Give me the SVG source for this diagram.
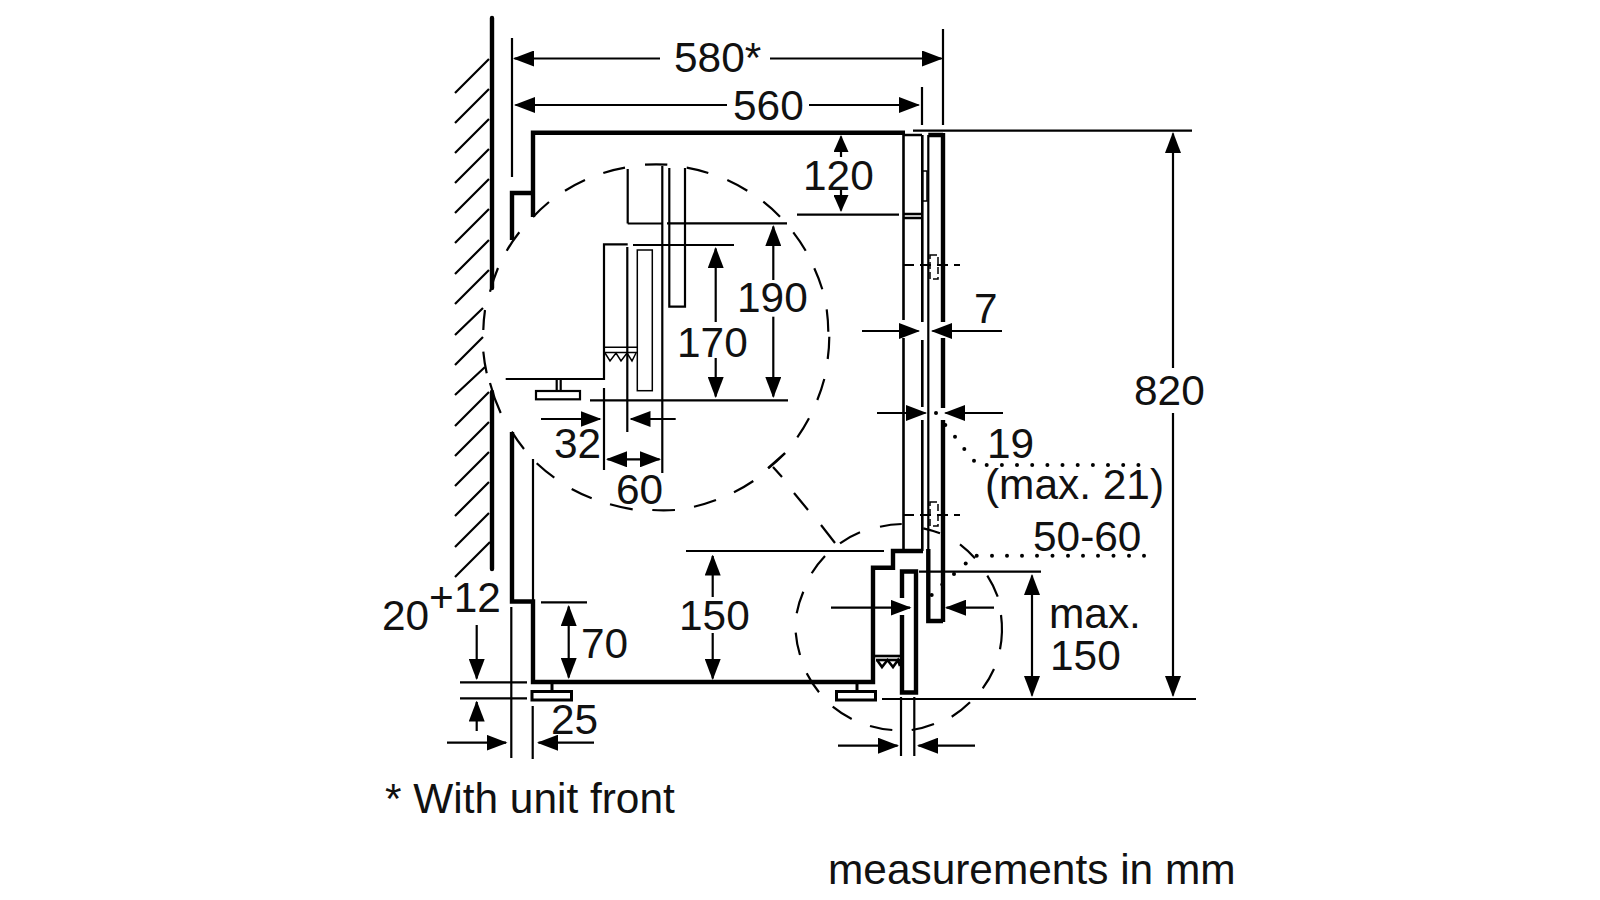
<svg xmlns="http://www.w3.org/2000/svg" width="1600" height="900" viewBox="0 0 1600 900">
<style>
.bg{fill:#fff}
path,line,rect,circle{fill:none;stroke:#000;stroke-width:2.2}
.thick{stroke-width:4.4}
.med{stroke-width:3}
.mid{stroke-width:2.6}
.hair{stroke-width:1.5}
.dash{stroke-width:2.2}
.sdash{stroke-width:1.8;stroke-dasharray:11 6}
.dots{fill:#000;stroke:none}
.head{fill:#000;stroke:none}
text{font-family:"Liberation Sans",Arial,sans-serif;font-size:42.4px;fill:#111}
.a{marker-end:url(#ah)}
.aa{marker-start:url(#ah);marker-end:url(#ah)}
.b{marker-end:url(#sh)}
</style>
<defs>
<marker id="ah" markerUnits="userSpaceOnUse" markerWidth="21" markerHeight="16" viewBox="0 0 21 16" refX="19.500" refY="8" orient="auto-start-reverse"><path class="head" d="M0 0L21 8L0 16Z"/></marker>
<marker id="sh" markerUnits="userSpaceOnUse" markerWidth="17" markerHeight="15" viewBox="0 0 17 15" refX="15.500" refY="7.500" orient="auto-start-reverse"><path class="head" d="M0 0L17 7.500L0 15Z"/></marker>
</defs>
<rect class="bg" style="stroke:none" width="1600" height="900"/>
<g id="wall">
<path class="thick" stroke-linecap="round" d="M492 18V288M492 392V569"/>
<path d="M455 93L489 59M455 123L489 89M455 153L489 119M455 183L489 149M455 213L489 179M455 243L489 209M455 274L489 240M455 304L489 270M455 335L483 308M455 365L483 337M455 395L485 367M455 426L489 392M455 456L489 422M455 486L489 452M455 516L489 482M455 547L489 513M455 577L490 542"/>
</g>
<g id="cabinet">
<path class="thick" d="M512 240V193H533M533 217V132.700H905"/>
<path class="thick" d="M512 432V601.500H533V682H873V567.700H893V551H923"/>
<path d="M533 459V600"/>
<path class="mid" d="M903.500 135V320M903.500 338V551M903.500 135H922M903.500 214H922M903.500 218H922M922.300 135V322M922.300 340V407M922.300 420V551"/>
<rect class="hair" x="922.500" y="171" width="4.500" height="30"/>
<path d="M928.300 135V549"/>
<path class="thick" d="M928.300 135H943M943 133V322M943 338V408M943 420V622M928.300 549V621H943"/>
<path class="med" d="M552 682V691"/>
<rect class="med" x="532" y="691.500" width="39.500" height="8.500"/>
<path class="med" d="M857 682V691"/>
<rect class="med" x="836.500" y="691.500" width="39" height="8.500"/>
<path class="thick" d="M902 598V571.500H916V692.500H902V615"/>
<path class="mid" d="M873 656H902"/>
<path class="mid" d="M876 660H901"/>
<path class="mid" d="M877 660L882 667L887.500 660L893 667L898 660L900 666"/>
</g>
<g id="hinges">
<path class="sdash" d="M903 265H960M903 515H960"/>
<rect class="hair" stroke-dasharray="7 3" x="930" y="255" width="8" height="24"/>
<rect class="hair" stroke-dasharray="7 3" x="930" y="502" width="8" height="24"/>
</g>
<g id="detail-upper">
<path class="dash" d="M645 164.700A173 173 0 0 1 667.300 164.700M686.700 167.700A173 173 0 0 1 708.300 173M727.300 180A173 173 0 0 1 747.300 190.700M763.300 201.700A173 173 0 0 1 780 216.700M793.300 232.300A173 173 0 0 1 805.700 250.700M814.300 268.300A173 173 0 0 1 822.300 289.300M826.700 309.300A173 173 0 0 1 828.300 331.700M829.300 336.700A173 173 0 0 1 827.700 359M824.300 379A173 173 0 0 1 817.300 400M809 418.300A173 173 0 0 1 797.300 437.300M785 453.300A173 173 0 0 1 768.300 468.300M753.300 481A173 173 0 0 1 734 492.300M716 500A173 173 0 0 1 694 506.700M675 510A173 173 0 0 1 652.300 510M632.700 509.300A173 173 0 0 1 610 504.300M591.700 498.300A173 173 0 0 1 571.700 489M554.300 477.700A173 173 0 0 1 536.700 463.300M524 449A173 173 0 0 1 511.700 431.700M500.700 413A173 173 0 0 1 490 383M486.700 373.300A173 173 0 0 1 483.300 351.700M483.300 330A173 173 0 0 1 485 310M490 291.700A173 173 0 0 1 498 268M506.700 250.700A173 173 0 0 1 519.300 232.300M533 217A173 173 0 0 1 549 202M565 190.700A173 173 0 0 1 585 180M603.300 173A173 173 0 0 1 625 167.700"/>
<path d="M773 467L782 477M794 493L808 510M821 525L835 543M768 468L785 453"/>
<path d="M627.700 169V223.500M627.700 223.500H662M662.300 166V473M669.300 168V306.700H685V168"/>
<path d="M627.700 244.300H604V379H505.700M627.300 247V432"/>
<rect class="hair" x="637.300" y="250" width="15" height="140.700" stroke="#333"/>
<path class="hair" d="M604 347.300H637M604 352.500H637"/>
<path class="hair" d="M605 353L610 361L616 353L621 361L627 353L632 361L636 353"/>
<path d="M556.700 380V391M560.700 380V391"/>
<rect x="536" y="391" width="44" height="8.300"/>
<path d="M604 388V470"/>
</g>
<g id="detail-lower">
<path class="dash" d="M880 526.700A103.300 103.300 0 0 1 901.700 524M923.300 528.300A103.300 103.300 0 0 1 940 533.300M960 544.300A103.300 103.300 0 0 1 975 558.300M987.300 575.700A103.300 103.300 0 0 1 997.700 596.700M1001 615A103.300 103.300 0 0 1 1000 649.300M994 669A103.300 103.300 0 0 1 982.700 688.300M970 702.300A103.300 103.300 0 0 1 951.700 716.700M934 724A103.300 103.300 0 0 1 911.700 730M892.300 730A103.300 103.300 0 0 1 870 726M851.700 719A103.300 103.300 0 0 1 832.700 706.700M819 692.300A103.300 103.300 0 0 1 806.700 673.300M800 655A103.300 103.300 0 0 1 795.700 632.700M796.700 613.300A103.300 103.300 0 0 1 803.300 591.700M811.700 573.300A103.300 103.300 0 0 1 825 556M840 543.300A103.300 103.300 0 0 1 860 532.300"/>
</g>
<g id="dimensions">
<path d="M512 38V177M922 87V125M943 29V125"/>
<path class="a" d="M660 58.500H514.500"/><path class="a" d="M770 58.500H941.500"/>
<path class="a" d="M727 105H515.500"/><path class="a" d="M809 105H918.500"/>
<path d="M913 130.700H1192M882 699H1196"/>
<path class="a" d="M1173 368V133.500"/><path class="a" d="M1173 413V695.500"/>
<path class="b" d="M841 157V136.500"/><path class="b" d="M841 190V210.500"/>
<path d="M797 214.700H899"/>
<path d="M667 223.300H787M633 245H734M590 400.300H788"/>
<path class="a" d="M773.300 280V226.500"/><path class="a" d="M773.300 316.700V396.500"/>
<path class="a" d="M715.700 322V248.500"/><path class="a" d="M715.700 358V396.500"/>
<path class="a" d="M541 419H600"/><path class="a" d="M675.700 419H631"/>
<path class="aa" d="M607.500 459.300H659.500"/>
<path class="a" d="M862 331H918.500"/><path class="a" d="M1002 331H932.500"/>
<path class="a" d="M877 413H925.500"/><path class="a" d="M1003 413H945.500"/>
<path d="M919 571.700H1041M686 551H884"/>
<path class="aa" d="M1032 575.500V695.500"/>
<path class="a" d="M831 607.700H910"/><path class="a" d="M994 607.700H946.500"/>
<path d="M901 697V756M914.300 697V756"/>
<path class="a" d="M838 745.700H897.500"/><path class="a" d="M975 745.700H918.500"/>
<path d="M541 602.300H587"/>
<path class="aa" d="M568.700 606.500V677.500"/>
<path class="a" d="M712.700 597V556"/><path class="a" d="M712.700 633V678.500"/>
<path class="a" d="M476.700 625V678.500"/><path class="a" d="M476.700 731V702"/>
<path d="M460 682.300H527M460 698.300H527M511.300 607V758M532.700 706V759"/>
<path class="a" d="M447 742.700H506"/><path class="a" d="M594 742.700H538.500"/>
</g>
<g id="leaders">
<g class="dots">
<circle class="dots" cx="936" cy="413" r="2"/><circle class="dots" cx="945.300" cy="425" r="2"/><circle class="dots" cx="955" cy="436.700" r="2"/><circle class="dots" cx="964.300" cy="449" r="2"/><circle class="dots" cx="974" cy="460.700" r="2"/>
<circle class="dots" cx="986.700" cy="465" r="2"/><circle class="dots" cx="1001.900" cy="465" r="2"/><circle class="dots" cx="1017" cy="465" r="2"/><circle class="dots" cx="1032.200" cy="465" r="2"/><circle class="dots" cx="1047.400" cy="465" r="2"/><circle class="dots" cx="1062.500" cy="465" r="2"/><circle class="dots" cx="1077.700" cy="465" r="2"/><circle class="dots" cx="1092.900" cy="465" r="2"/><circle class="dots" cx="1108" cy="465" r="2"/><circle class="dots" cx="1123.200" cy="465" r="2"/><circle class="dots" cx="1138.400" cy="465" r="2"/>
<circle class="dots" cx="931.700" cy="595" r="2"/><circle class="dots" cx="942.300" cy="584.500" r="2"/><circle class="dots" cx="954" cy="574" r="2"/><circle class="dots" cx="965.700" cy="563.500" r="2"/>
<circle class="dots" cx="976.700" cy="555.700" r="2"/><circle class="dots" cx="992" cy="555.700" r="2"/><circle class="dots" cx="1007" cy="555.700" r="2"/><circle class="dots" cx="1022" cy="555.700" r="2"/><circle class="dots" cx="1037" cy="555.700" r="2"/><circle class="dots" cx="1052.500" cy="555.700" r="2"/><circle class="dots" cx="1068" cy="555.700" r="2"/><circle class="dots" cx="1083" cy="555.700" r="2"/><circle class="dots" cx="1098" cy="555.700" r="2"/><circle class="dots" cx="1113.500" cy="555.700" r="2"/><circle class="dots" cx="1129" cy="555.700" r="2"/><circle class="dots" cx="1144" cy="555.700" r="2"/>
</g>
</g>
<g id="labels">
<text x="674" y="72">580*</text>
<text x="733" y="120">560</text>
<text x="803" y="190">120</text>
<text x="737" y="312">190</text>
<text x="677" y="357">170</text>
<text x="974" y="323">7</text>
<text x="1134" y="405">820</text>
<text x="987" y="458">19</text>
<text x="985" y="499">(max. 21)</text>
<text x="1033" y="551">50-60</text>
<text x="554" y="458">32</text>
<text x="616" y="504">60</text>
<text x="1049" y="628">max.</text>
<text x="1050" y="670">150</text>
<text x="679" y="630">150</text>
<text x="581" y="658">70</text>
<text x="382" y="630">20</text>
<text x="429" y="612">+12</text>
<text x="551" y="734">25</text>
<text x="385" y="813">* With unit front</text>
<text x="828" y="884">measurements in mm</text>
</g>
</svg>
